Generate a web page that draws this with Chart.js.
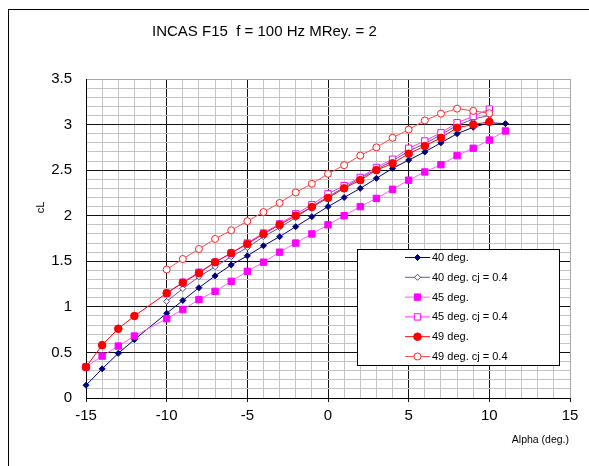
<!DOCTYPE html>
<html>
<head>
<meta charset="utf-8">
<script src="https://cdn.jsdelivr.net/npm/chart.js@4.4.0/dist/chart.umd.min.js"></script>
<style>
  body { margin: 0; background: #fff; }
  #grafico { display: block; }
</style>
</head>
<body>
<canvas id="grafico" width="589" height="466"></canvas>
<script>
// Angulos de ataque (grados)
var alphaLargo = [-15, -14, -13, -12, -10, -9, -8, -7, -6, -5, -4, -3, -2, -1, 0, 1, 2, 3, 4, 5, 6, 7, 8, 9, 10, 11];
var alpha49 = [-15, -14, -13, -12, -10, -9, -8, -7, -6, -5, -4, -3, -2, -1, 0, 1, 2, 3, 4, 5, 6, 7, 8, 9, 10];
var alphaCj = [-10, -9, -8, -7, -6, -5, -4, -3, -2, -1, 0, 1, 2, 3, 4, 5, 6, 7, 8, 9, 10];

// Coeficiente de sustentacion CL por configuracion
var cl40 = [0.14, 0.32, 0.49, 0.64, 0.93, 1.07, 1.21, 1.34, 1.46, 1.56, 1.67, 1.77, 1.88, 1.99, 2.10, 2.20, 2.30, 2.41, 2.52, 2.61, 2.70, 2.80, 2.90, 2.97, 3.02, 3.01];
var cl40cj = [1.06, 1.20, 1.33, 1.44, 1.55, 1.65, 1.77, 1.87, 1.98, 2.10, 2.21, 2.31, 2.41, 2.51, 2.60, 2.71, 2.79, 2.89, 2.99, 3.06, 3.10];
var cl45 = [0.34, 0.46, 0.57, 0.68, 0.87, 0.97, 1.08, 1.17, 1.28, 1.39, 1.49, 1.60, 1.70, 1.80, 1.90, 2.00, 2.10, 2.19, 2.29, 2.39, 2.48, 2.56, 2.66, 2.74, 2.83, 2.93];
var cl45cj = [1.15, 1.27, 1.38, 1.49, 1.59, 1.70, 1.81, 1.91, 2.02, 2.12, 2.24, 2.33, 2.42, 2.53, 2.62, 2.74, 2.82, 2.91, 3.02, 3.09, 3.17];
var cl49 = [0.34, 0.58, 0.76, 0.90, 1.15, 1.265, 1.37, 1.49, 1.59, 1.69, 1.80, 1.90, 2.00, 2.095, 2.195, 2.30, 2.39, 2.50, 2.575, 2.68, 2.765, 2.855, 2.965, 3.00, 3.03];
var cl49cj = [1.41, 1.525, 1.635, 1.745, 1.84, 1.94, 2.04, 2.14, 2.255, 2.35, 2.46, 2.555, 2.66, 2.75, 2.855, 2.945, 3.045, 3.12, 3.175, 3.15, 3.125];

var fuente = "'Liberation Sans', Arial, sans-serif";

function puntos(xs, ys) {
  return xs.map(function (x, i) { return { x: x, y: ys[i] }; });
}

var series = [
  { label: "40 deg.", data: puntos(alphaLargo, cl40), borderColor: "#000080", pointBorderColor: "#000080", backgroundColor: "#000080", pointStyle: "rectRot", pointRadius: 3 },
  { label: "40 deg. cj = 0.4", data: puntos(alphaCj, cl40cj), borderColor: "#5a5aa8", pointBorderColor: "#4a4a9a", backgroundColor: "#ffffff", pointStyle: "rectRot", pointRadius: 3 },
  { label: "45 deg.", data: puntos(alphaLargo, cl45), borderColor: "#ff5cff", pointBorderColor: "#ff00ff", backgroundColor: "#ff00ff", pointStyle: "rect", pointRadius: 4.5 },
  { label: "45 deg. cj = 0.4", data: puntos(alphaCj, cl45cj), borderColor: "#ff33ff", pointBorderColor: "#ff00ff", backgroundColor: "#ffffff", pointStyle: "rect", pointRadius: 4.5 },
  { label: "49 deg.", data: puntos(alpha49, cl49), borderColor: "#ff0000", pointBorderColor: "#ff0000", backgroundColor: "#ff0000", pointStyle: "circle", pointRadius: 3.8 },
  { label: "49 deg. cj = 0.4", data: puntos(alphaCj, cl49cj), borderColor: "#ff4c4c", pointBorderColor: "#ff2020", backgroundColor: "#ffffff", pointStyle: "circle", pointRadius: 3.5 }
];

series.forEach(function (s, i) {
  s.borderWidth = 1;
  s.pointBorderWidth = 1;
  s.pointBackgroundColor = s.backgroundColor;
  s.tension = 0;
  s.clip = false; // los marcadores del borde se dibujan enteros
  s.order = series.length - i; // las ultimas series quedan encima
});

// Marco, titulo y rotulos de ejes
var textosFijos = {
  id: "textosFijos",
  beforeDraw: function (chart) {
    var ctx = chart.ctx;
    ctx.save();
    ctx.fillStyle = "#fff";
    ctx.fillRect(0, 0, chart.width, chart.height);
    ctx.strokeStyle = "#000";
    ctx.lineWidth = 1;
    ctx.strokeRect(8.5, 9.5, 700, 700);
    ctx.restore();
  },
  afterDraw: function (chart) {
    var ctx = chart.ctx;
    ctx.save();
    ctx.fillStyle = "#000";
    ctx.textBaseline = "middle";
    ctx.font = "15px " + fuente;
    ctx.fillText("INCAS F15  f = 100 Hz MRey. = 2", 152, 32);

    ctx.font = "10.5px " + fuente;
    ctx.textAlign = "right";
    ctx.fillText("Alpha (deg.)", 569, 440);

    ctx.translate(41, 207.5);
    ctx.rotate(-Math.PI / 2);
    ctx.textAlign = "center";
    ctx.font = "11px " + fuente;
    ctx.fillText("cL", 0, 0);
    ctx.restore();
  }
};

// Leyenda dentro del area de trazado
var leyendaPropia = {
  id: "leyendaPropia",
  afterDatasetsDraw: function (chart) {
    var ctx = chart.ctx;
    ctx.save();
    ctx.fillStyle = "#fff";
    ctx.fillRect(357, 249, 203, 117);
    ctx.strokeStyle = "#000";
    ctx.lineWidth = 1;
    ctx.strokeRect(357.5, 249.5, 202, 116);
    chart.data.datasets.forEach(function (ds, i) {
      var y = 257.5 + i * 19.8;
      ctx.strokeStyle = ds.borderColor;
      ctx.lineWidth = 1;
      ctx.beginPath();
      ctx.moveTo(405, y);
      ctx.lineTo(430, y);
      ctx.stroke();
      ctx.fillStyle = ds.backgroundColor;
      ctx.strokeStyle = ds.pointBorderColor;
      Chart.helpers.drawPoint(ctx, { pointStyle: ds.pointStyle, radius: ds.pointRadius, borderWidth: 1, rotation: 0 }, 417.5, y);
      ctx.fillStyle = "#000";
      ctx.font = "11px " + fuente;
      ctx.textAlign = "left";
      ctx.textBaseline = "middle";
      ctx.fillText(ds.label, 432, y + 0.5);
    });
    ctx.restore();
  }
};

function colorX(ctx) {
  var v = ctx.tick.value;
  if (v === 15) return "#a8a8a8";
  return v % 5 === 0 ? "#111" : "#c4c4c4";
}

function colorY(ctx) {
  var r = Math.round(ctx.tick.value * 10);
  if (r === 35) return "#a8a8a8";
  return r % 5 === 0 ? "#111" : "#c4c4c4";
}

var grafico = new Chart(document.getElementById("grafico"), {
  type: "line",
  data: { datasets: series },
  options: {
    responsive: false,
    animation: false,
    devicePixelRatio: 1,
    layout: { padding: { top: 79, right: 19, left: 0, bottom: 0 } },
    plugins: { legend: { display: false }, tooltip: { enabled: false } },
    scales: {
      x: {
        type: "linear",
        min: -15,
        max: 15,
        afterFit: function (s) { s.height = 68; },
        ticks: {
          stepSize: 1,
          autoSkip: false,
          maxRotation: 0,
          color: "#000",
          padding: 5,
          font: { family: fuente, size: 15 },
          callback: function (v) { return v % 5 === 0 ? String(v) : ""; }
        },
        grid: {
          color: colorX,
          tickLength: 4,
          tickColor: function (ctx) { return ctx.tick.value % 5 === 0 ? "#111" : "rgba(0,0,0,0)"; }
        },
        border: { color: "#000" }
      },
      y: {
        type: "linear",
        min: 0,
        max: 3.5,
        afterFit: function (s) { s.width = 86; },
        ticks: {
          stepSize: 0.1,
          autoSkip: false,
          color: "#000",
          padding: 14,
          font: { family: fuente, size: 15 },
          callback: function (v) {
            var r = Math.round(v * 10);
            return r % 5 === 0 ? String(r / 10) : "";
          }
        },
        grid: { color: colorY, drawTicks: false },
        border: { color: "#000" }
      }
    }
  },
  plugins: [textosFijos, leyendaPropia]
});
</script>
</body>
</html>
